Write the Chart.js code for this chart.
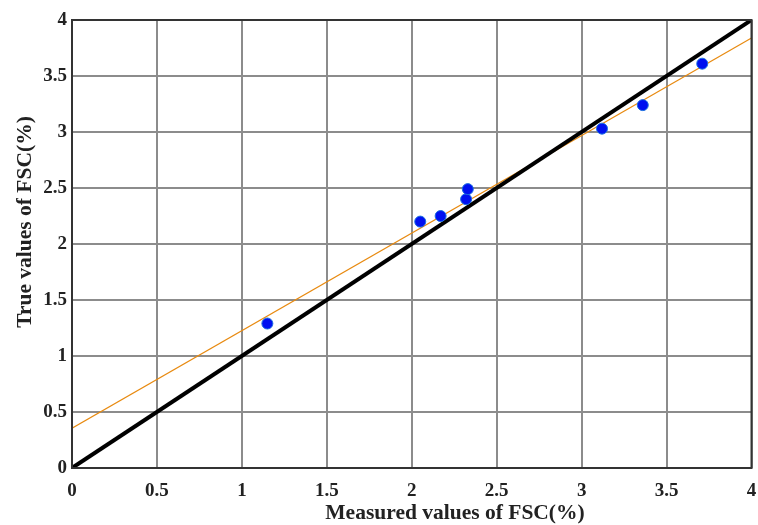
<!DOCTYPE html>
<html lang="en">

<head>
    <meta charset="UTF-8" />
    <title>Measured vs True FSC</title>
    <script src="https://cdn.jsdelivr.net/npm/chart.js"></script>
    <style>
        html, body {
            margin: 0;
            padding: 0;
            background: #ffffff;
        }

        #wrap {
            width: 758px;
            height: 525px;
        }
    </style>
</head>

<body>
    <div id="wrap">
        <canvas id="fscChart" width="758" height="525"></canvas>
    </div>

    <script>
        // measured (x) vs true (y) FSC values
        const measuredFSC = [1.15, 2.05, 2.17, 2.32, 2.33, 3.12, 3.36, 3.71];
        const trueFSC = [1.29, 2.20, 2.25, 2.40, 2.49, 3.03, 3.24, 3.61];

        // reference line y = x and fitted line end points
        const idealX = [0, 4];
        const idealY = [0, 4];
        const fitX = [0, 4];
        const fitY = [0.355, 3.84];

        const tickValues = [0, 0.5, 1, 1.5, 2, 2.5, 3, 3.5, 4];

        const xTitle = "Measured values of FSC(%)";
        const yTitle = "True values of FSC(%)";

        const serif = "'Liberation Serif', 'Times New Roman', serif";

        const toPoints = (xs, ys) => xs.map((x, i) => ({ x: x, y: ys[i] }));

        // box around the plot like matlab + the two axis titles
        // (titles sit off-centre in the original, so they're drawn here)
        const boxPlugin = {
            id: "box",
            afterDraw(chart) {
                const { ctx, chartArea: a } = chart;
                ctx.save();
                ctx.strokeStyle = "#333333";
                ctx.lineWidth = 2;
                ctx.strokeRect(a.left, a.top, a.right - a.left, a.bottom - a.top);

                ctx.fillStyle = "#222222";
                ctx.font = "bold 21.5px " + serif;
                ctx.textAlign = "center";
                ctx.textBaseline = "middle";
                ctx.fillText(xTitle, 455, 513);

                ctx.translate(25, 222);
                ctx.rotate(-Math.PI / 2);
                ctx.fillText(yTitle, 0, 0);
                ctx.restore();
            }
        };

        const axisCommon = {
            type: "linear",
            min: 0,
            max: 4,
            afterBuildTicks: axis => {
                axis.ticks = tickValues.map(v => ({ value: v }));
            },
            grid: {
                color: "#8c8c8c",
                lineWidth: 2,
                drawTicks: false
            },
            border: { display: false }
        };

        const tickFont = { family: serif, size: 19, weight: "bold" };

        new Chart(document.getElementById("fscChart"), {
            type: "scatter",
            data: {
                datasets: [
                    {
                        label: "y = x",
                        type: "line",
                        data: toPoints(idealX, idealY),
                        borderColor: "#000000",
                        borderWidth: 4,
                        pointRadius: 0,
                        fill: false,
                        order: 2
                    },
                    {
                        label: "fit",
                        type: "line",
                        data: toPoints(fitX, fitY),
                        borderColor: "#e88a10",
                        borderWidth: 1.2,
                        pointRadius: 0,
                        fill: false,
                        order: 3
                    },
                    {
                        label: "samples",
                        data: toPoints(measuredFSC, trueFSC),
                        backgroundColor: "#0010f0",
                        borderColor: "#1a6ee0",
                        borderWidth: 1,
                        pointRadius: 5.5,
                        order: 1
                    }
                ]
            },
            options: {
                responsive: false,
                animation: false,
                layout: {
                    padding: { top: 20, right: 6, left: 0, bottom: 0 }
                },
                plugins: {
                    legend: { display: false },
                    tooltip: { enabled: false }
                },
                scales: {
                    x: {
                        ...axisCommon,
                        position: "bottom",
                        afterFit: s => { s.height = 57; },
                        ticks: {
                            // padding adds to right overflow, so push labels down with lineHeight
                            padding: 0,
                            color: "#222222",
                            font: { ...tickFont, lineHeight: 2.4 },
                            callback: v => String(v)
                        },
                        title: { display: false }
                    },
                    y: {
                        ...axisCommon,
                        position: "left",
                        afterFit: s => { s.width = 72; },
                        ticks: {
                            padding: 5,
                            color: "#222222",
                            font: tickFont,
                            callback: v => String(v)
                        },
                        title: { display: false }
                    }
                }
            },
            plugins: [boxPlugin]
        });
    </script>
</body>

</html>
